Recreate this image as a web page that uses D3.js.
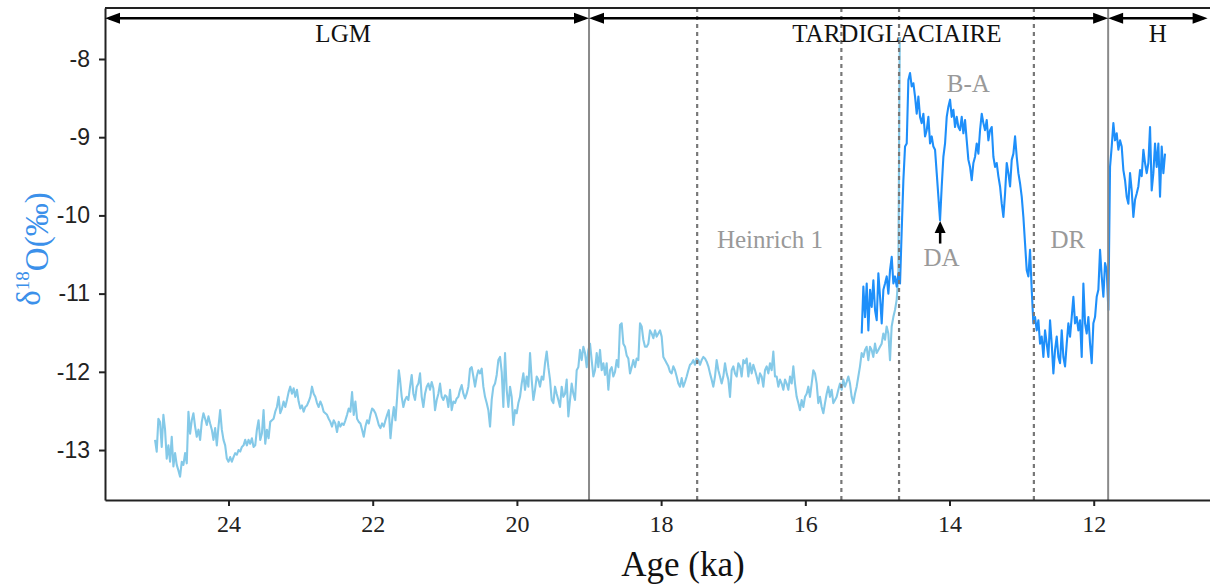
<!DOCTYPE html>
<html>
<head>
<meta charset="utf-8">
<script src="https://cdn.jsdelivr.net/npm/d3@7"></script>
<style>
  html, body { margin: 0; padding: 0; background: #fff; }
  svg { display: block; }
</style>
</head>
<body>
<svg id="chart" width="1210" height="586"></svg>
<script>
// ---------------- DATA ----------------
// Light series (older record), sampled evenly between the ages of each span
const lightSpanA = [25.019, 21.638];
const lightA = [
-12.87,-13.02,-12.60,-12.64,-12.96,-12.55,-12.74,-13.11,-12.94,-13.15,
-12.83,-13.21,-13.04,-13.19,-13.26,-13.34,-13.15,-13.19,-13.04,-13.17,
-12.51,-12.79,-12.62,-12.53,-12.70,-12.83,-12.74,-12.87,-12.64,-12.53,
-12.60,-12.68,-12.57,-12.66,-12.74,-12.87,-12.72,-12.94,-12.70,-12.49,
-12.74,-12.87,-12.94,-13.11,-13.15,-13.09,-13.15,-13.09,-13.04,-13.06,
-13.00,-13.02,-12.96,-12.94,-12.87,-12.94,-12.87,-12.92,-12.85,-12.96,
-12.94,-12.74,-12.62,-12.87,-12.79,-12.49,-12.92,-12.74,-12.85,-12.64,
-12.62,-12.60,-12.51,-12.45,-12.32,-12.53,-12.47,-12.38,-12.45,-12.36,
-12.26,-12.19,-12.28,-12.21,-12.32,-12.23,-12.38,-12.47,-12.43,-12.51,
-12.45,-12.43,-12.38,-12.32,-12.19,-12.28,-12.32,-12.40,-12.45,-12.38,
-12.43,-12.51,-12.53,-12.55,-12.60,-12.64,-12.70,-12.62,-12.66,-12.77,
-12.64,-12.70,-12.66,-12.68,-12.62,-12.55,-12.47,-12.51,-12.26,-12.55,
-12.38,-12.60,-12.64,-12.66,-12.74,-12.83,-12.70,-12.62,-12.66,-12.55,
-12.47,-12.49,-12.53,-12.60,-12.68,-12.72,-12.66,-12.70,-12.62,-12.55,
-12.49,-12.85,-12.62,-12.45,-12.62,-12.32,-11.98
];
const lightSpanB = [21.621, 18.154];
const lightB = [
-12.10,-12.32,-12.45,-12.36,-12.32,-12.36,-12.19,-12.04,-12.28,-12.36,
-12.19,-12.15,-12.02,-12.32,-12.45,-12.28,-12.19,-12.15,-12.23,-12.13,
-12.21,-12.49,-12.36,-12.28,-12.15,-12.32,-12.36,-12.30,-12.32,-12.45,
-12.23,-12.49,-12.38,-12.40,-12.34,-12.32,-12.23,-12.17,-12.28,-12.34,
-12.28,-12.19,-11.96,-11.94,-12.06,-12.19,-12.06,-11.98,-12.02,-11.96,
-12.19,-12.32,-12.40,-12.49,-12.70,-12.36,-12.19,-12.15,-12.04,-11.85,
-11.81,-12.00,-12.45,-11.76,-12.23,-12.45,-12.19,-12.32,-12.68,-12.49,
-12.53,-12.40,-12.32,-12.15,-12.02,-12.23,-12.06,-12.19,-11.76,-12.10,
-12.36,-12.23,-12.06,-12.10,-12.19,-12.06,-12.10,-11.89,-11.74,-11.94,
-12.10,-12.36,-12.40,-12.19,-12.28,-12.36,-12.45,-12.19,-12.32,-12.28,
-12.10,-12.57,-12.36,-12.15,-12.28,-12.36,-11.98,-11.94,-11.72,-11.85,
-11.68,-11.76,-11.94,-11.72,-11.64,-11.85,-12.06,-11.98,-11.76,-11.94,
-11.72,-11.98,-11.89,-12.04,-11.89,-12.23,-11.98,-11.94,-12.06,-12.00,
-11.85,-11.94,-11.40,-11.38,-11.64,-11.68,-11.79,-11.83,-12.02,-11.94,
-11.85,-11.94,-11.83,-11.85,-11.38,-11.42,-11.59,-11.68,-11.68,-11.64,
-11.47
];
const lightSpanC = [18.131, 14.710];
const lightC = [
-11.51,-11.57,-11.47,-11.55,-11.51,-11.47,-11.55,-11.81,-11.85,-11.89,
-11.93,-12.00,-12.02,-11.93,-11.98,-12.06,-12.15,-12.19,-12.08,-12.19,
-12.13,-12.06,-11.98,-11.91,-11.89,-11.85,-11.91,-11.83,-11.85,-11.91,
-11.85,-11.81,-11.83,-11.87,-11.93,-12.02,-12.10,-12.19,-12.06,-11.85,
-11.98,-12.06,-12.15,-12.06,-11.89,-12.02,-12.10,-12.32,-11.98,-11.93,
-12.02,-12.06,-11.89,-11.93,-12.06,-11.85,-11.89,-11.83,-12.06,-11.89,
-12.02,-11.91,-11.98,-12.06,-12.15,-12.02,-12.06,-12.19,-11.98,-11.93,
-12.02,-11.89,-11.98,-11.74,-12.06,-12.06,-12.19,-12.10,-12.15,-12.23,
-12.10,-12.15,-12.23,-12.06,-12.15,-11.93,-12.15,-12.32,-12.40,-12.49,
-12.36,-12.45,-12.32,-12.28,-12.19,-12.32,-12.15,-11.98,-12.02,-12.15,
-12.40,-12.32,-12.45,-12.53,-12.40,-12.28,-12.19,-12.32,-12.23,-12.40,
-12.36,-12.32,-12.23,-12.15,-12.23,-12.10,-12.19,-12.13,-12.06,-12.15,
-12.32,-12.40,-12.28,-12.19,-12.06,-11.93,-11.76,-11.81,-11.72,-11.68,
-11.85,-11.68,-11.72,-11.81,-11.64,-11.76,-11.72,-11.68,-11.64,-11.51,
-11.59,-11.42,-11.51,-11.85,-11.42,-11.30,-11.21,-11.08,-10.78
];
const lightEndAge = [14.69];
const lightEndValue = [-7.72];

// Dark series (younger record)
const darkSpanD = [15.218, 13.091];
const darkD = [
-11.51,-10.91,-11.30,-10.87,-11.47,-10.95,-11.17,-10.83,-11.21,-11.34,
-10.74,-11.04,-11.38,-10.95,-10.87,-10.78,-11.00,-10.70,-10.53,-10.87,
-10.78,-10.91,-10.74,-10.87,-10.19,-9.55,-9.12,-9.08,-8.27,-8.18,
-8.35,-8.31,-8.48,-8.70,-8.48,-8.74,-8.82,-8.70,-8.99,-8.91,
-8.74,-9.08,-8.99,-9.12,-9.16,-9.46,-9.76,-10.06,-9.63,-9.25,
-9.08,-8.74,-8.61,-8.52,-8.74,-8.65,-8.87,-8.74,-8.87,-8.91,
-8.74,-8.95,-8.78,-9.04,-9.29,-9.38,-9.55,-9.33,-9.25,-9.08,
-9.21,-8.91,-8.70,-8.82,-8.91,-8.78,-9.04,-8.91,-8.87,-9.25,
-9.38,-9.33,-9.50,-9.63,-9.85,-10.02,-9.72,-9.33,-9.46,-9.63,
-9.29,-9.21,-8.99
];
const darkSpanE = [13.068, 11.011];
const darkE = [
-9.25,-9.46,-9.59,-9.76,-10.02,-10.36,-10.70,-10.78,-10.44,-10.95,
-11.38,-11.30,-11.47,-11.34,-11.64,-11.55,-11.81,-11.47,-11.64,-11.81,
-11.34,-11.64,-12.02,-11.72,-11.55,-11.81,-11.89,-11.47,-11.81,-11.93,
-11.64,-11.38,-11.55,-11.30,-11.04,-11.38,-11.30,-11.47,-11.34,-11.81,
-10.87,-11.38,-11.51,-11.30,-11.64,-11.89,-11.38,-11.30,-11.04,-10.95,
-10.44,-10.78,-11.04,-10.61,-10.70,-11.21,-9.38,-9.12,-8.82,-9.04,
-8.95,-9.16,-9.04,-9.12,-9.42,-9.55,-9.76,-9.85,-9.46,-9.68,
-10.02,-9.80,-9.72,-9.63,-9.42,-9.50,-9.16,-9.33,-9.46,-9.33,
-8.87,-9.68,-9.46,-9.08,-9.38,-9.08,-9.76,-9.12,-9.46,-9.21
];

// Axis ticks
const xTicks = [24, 22, 20, 18, 16, 14, 12];
const yTicks = [-8, -9, -10, -11, -12, -13];

// Boundaries
const solidLines = [19, 11.8];
const dashedLines = [17.5, 15.5, 14.7, 12.83];

// Period arrows at the top
const periodNames = ["LGM", "TARDIGLACIAIRE", "H"];
const periodStart = [25.713, 19, 11.8];
const periodEnd = [19, 11.8, 10.42];
const periodLabelAge = [22.41, 14.73, 11.11];

// In-plot annotations (gray)
const noteNames = ["Heinrich 1", "B-A", "DA", "DR"];
const noteAge = [16.49, 13.74, 14.11, 12.36];
const noteValue = [-10.31, -8.31, -10.54, -10.31];

// DA arrow
const daArrowAge = [14.13];
const daArrowFrom = [-10.36];
const daArrowTo = [-10.07];

// ---------------- DRAW ----------------
const svg = d3.select("#chart");
const x = d3.scaleLinear().domain([25.713, 9.68]).range([105, 1261]);
const y = d3.scaleLinear().domain([-13.639, -7.348]).range([500, 8]);

function spread(span, vals) {
  const n = vals.length;
  return vals.map((v, i) => ({ age: span[0] + (span[1] - span[0]) * i / (n - 1), v }));
}
const lightPts = [].concat(
  spread(lightSpanA, lightA),
  spread(lightSpanB, lightB),
  spread(lightSpanC, lightC),
  lightEndAge.map((a, i) => ({ age: a, v: lightEndValue[i] }))
);
const darkPts = [].concat(spread(darkSpanD, darkD), spread(darkSpanE, darkE));

const line = d3.line().x(d => x(d.age)).y(d => y(d.v));

svg.append("path").datum(lightPts)
  .attr("d", line).attr("fill", "none")
  .attr("stroke", "#84c9e8").attr("stroke-width", 2.1)
  .attr("stroke-linejoin", "round");

svg.append("path").datum(darkPts)
  .attr("d", line).attr("fill", "none")
  .attr("stroke", "#1e8ffa").attr("stroke-width", 2.1)
  .attr("stroke-linejoin", "round");

// Vertical boundary lines
svg.selectAll(".solidv").data(solidLines).enter().append("line")
  .attr("x1", d => x(d)).attr("x2", d => x(d))
  .attr("y1", y.range()[1]).attr("y2", y.range()[0])
  .attr("stroke", "#8a8a8a").attr("stroke-width", 2);

svg.selectAll(".dashv").data(dashedLines).enter().append("line")
  .attr("x1", d => x(d)).attr("x2", d => x(d))
  .attr("y1", y.range()[1]).attr("y2", y.range()[0])
  .attr("stroke", "#777").attr("stroke-width", 2.2)
  .attr("stroke-dasharray", "4,4");

// Axes
const gy = svg.append("g").attr("transform", `translate(${x.range()[0]},0)`)
  .call(d3.axisLeft(y).tickValues(yTicks).tickFormat(d => d).tickSize(6).tickPadding(9).tickSizeOuter(0));
gy.selectAll("text").attr("font-family", "Liberation Sans, Arial, sans-serif")
  .attr("font-size", 23).attr("fill", "#222");
gy.selectAll("line,path").attr("stroke", "#222").attr("stroke-width", 2);

const gx = svg.append("g").attr("transform", `translate(0,${y.range()[0]})`)
  .call(d3.axisBottom(x).tickValues(xTicks).tickFormat(d3.format("d")).tickSize(6).tickPadding(9).tickSizeOuter(0));
gx.selectAll("text").attr("font-family", "Liberation Serif, Times New Roman, serif")
  .attr("font-size", 24).attr("fill", "#222");
gx.selectAll("line,path").attr("stroke", "#222").attr("stroke-width", 2);

// Top spine
svg.append("line").attr("x1", x.range()[0]).attr("x2", x.range()[1])
  .attr("y1", y.range()[1]).attr("y2", y.range()[1])
  .attr("stroke", "#222").attr("stroke-width", 2);

// Period arrows
const arrowY = y(-7.48);
function head(xTip, dir) { // dir = +1 points right, -1 points left
  const L = 15, hw = 5.5;
  return `M${xTip},${arrowY} L${xTip - dir * L},${arrowY - hw} L${xTip - dir * L},${arrowY + hw} Z`;
}
periodNames.forEach((name, i) => {
  const x0 = x(periodStart[i]), x1 = x(periodEnd[i]);
  svg.append("line").attr("x1", x0 + 4).attr("x2", x1 - 4)
    .attr("y1", arrowY).attr("y2", arrowY)
    .attr("stroke", "#000").attr("stroke-width", 2.5);
  svg.append("path").attr("d", head(x0, -1)).attr("fill", "#000");
  svg.append("path").attr("d", head(x1, 1)).attr("fill", "#000");
  svg.append("text").attr("x", x(periodLabelAge[i])).attr("y", y(-7.78))
    .attr("text-anchor", "middle")
    .attr("font-family", "Liberation Serif, Times New Roman, serif")
    .attr("font-size", 25).attr("fill", "#111").text(name);
});

// Gray annotations
noteNames.forEach((t, i) => {
  svg.append("text").attr("x", x(noteAge[i])).attr("y", y(noteValue[i]))
    .attr("text-anchor", "middle").attr("dominant-baseline", "central")
    .attr("font-family", "Liberation Serif, Times New Roman, serif")
    .attr("font-size", 25).attr("fill", "#999").text(t);
});

// DA arrow
daArrowAge.forEach((a, i) => {
  const ax = x(a), y0 = y(daArrowFrom[i]), y1 = y(daArrowTo[i]);
  svg.append("line").attr("x1", ax).attr("x2", ax).attr("y1", y0).attr("y2", y1 + 8)
    .attr("stroke", "#000").attr("stroke-width", 2.5);
  svg.append("path").attr("d", `M${ax},${y1} L${ax - 5.5},${y1 + 12} L${ax + 5.5},${y1 + 12} Z`).attr("fill", "#000");
});

// Axis titles
svg.append("text").attr("x", (x.range()[0] + x.range()[1]) / 2).attr("y", 576)
  .attr("text-anchor", "middle")
  .attr("font-family", "Liberation Serif, Times New Roman, serif")
  .attr("font-size", 35).attr("fill", "#111").text("Age (ka)");

const yl = svg.append("text")
  .attr("transform", `translate(40,249) rotate(-90)`)
  .attr("text-anchor", "middle")
  .attr("font-family", "Liberation Serif, Times New Roman, serif")
  .attr("font-size", 33).attr("fill", "#3b90ea");
yl.append("tspan").text("δ");
yl.append("tspan").attr("font-size", 19).attr("dy", "-0.6em").text("18");
yl.append("tspan").attr("dy", "0.6em").text("O(‰)");
</script>
</body>
</html>
